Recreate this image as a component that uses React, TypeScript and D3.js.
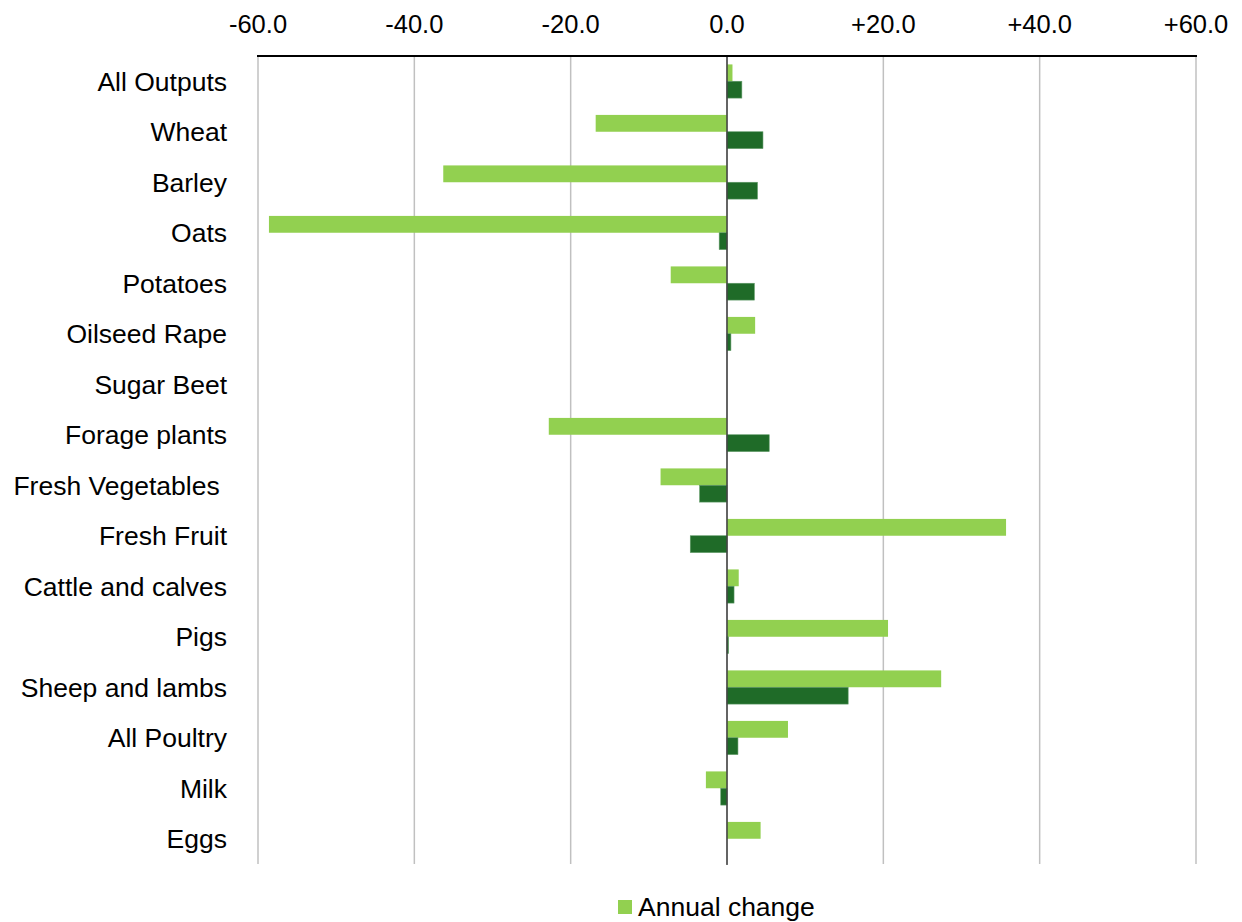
import React from 'react';
import * as d3 from 'd3';

const categories = [
  'All Outputs', 'Wheat', 'Barley', 'Oats', 'Potatoes', 'Oilseed Rape', 'Sugar Beet',
  'Forage plants', 'Fresh Vegetables ', 'Fresh Fruit', 'Cattle and calves', 'Pigs',
  'Sheep and lambs', 'All Poultry', 'Milk', 'Eggs',
];
const annualChange: (number | null)[] = [
  0.7, -16.8, -36.3, -58.6, -7.2, 3.6, null, -22.8, -8.5, 35.7, 1.5, 20.6, 27.4, 7.8, -2.7, 4.3,
];
const secondSeries: (number | null)[] = [
  1.9, 4.6, 3.9, -1.0, 3.5, 0.5, null, 5.4, -3.5, -4.7, 0.9, 0.2, 15.5, 1.4, -0.8, null,
];
const xTicks = [-60, -40, -20, 0, 20, 40, 60];
const seriesKeys = ['annual', 'second'];
const seriesNames = ['Annual change', ''];
const seriesColors = ['#92D050', '#1F6B28'];

const W = 1242, H = 922;
const FONT = '"Liberation Sans", Arial, sans-serif';

export default function App() {
  const x = d3.scaleLinear().domain([-60, 60]).range([258, 1196]);
  const y = d3.scaleBand<string>().domain(categories).range([56, 864]);
  const yInner = d3.scaleBand<string>().domain(seriesKeys).range([0, y.bandwidth()])
    .paddingInner(0).paddingOuter(0.5);
  const fmt = (v: number) => (v > 0 ? '+' : v < 0 ? '-' : '') + Math.abs(v).toFixed(1);
  const data = [annualChange, secondSeries];

  return (
    <svg width={W} height={H} style={{ position: 'absolute', left: 0, top: 0, background: '#fff' }}
      fontFamily={FONT}>
      {xTicks.map((t) => (
        <line key={'g' + t} x1={x(t)} x2={x(t)} y1={56} y2={864} stroke="#c0c0c0" strokeWidth={1.5} />
      ))}
      {data.map((series, si) =>
        series.map((v, i) => {
          if (v === null) return null;
          const y0 = (y(categories[i]) as number) + (yInner(seriesKeys[si]) as number);
          const x0 = x(Math.min(0, v));
          const x1 = x(Math.max(0, v));
          return (
            <rect key={si + '-' + i} x={x0} y={y0} width={Math.max(x1 - x0, 0.8)} height={yInner.bandwidth()}
              fill={seriesColors[si]} stroke={si === 1 ? '#5f9a66' : 'none'} strokeWidth={si === 1 ? 0.6 : 0} />
          );
        })
      )}
      <line x1={x(0)} x2={x(0)} y1={56} y2={865} stroke="#404040" strokeWidth={1.5} />
      <line x1={x(-60) - 1} x2={x(60) + 1} y1={56} y2={56} stroke="#000" strokeWidth={2} />
      {xTicks.map((t) => (
        <text key={'t' + t} x={x(t)} y={33} textAnchor="middle" fontSize={25.5} fill="#000">{fmt(t)}</text>
      ))}
      {categories.map((c) => (
        <text key={'c' + c} x={227} y={(y(c) as number) + y.bandwidth() / 2} dy="0.35em" textAnchor="end"
          fontSize={26.5} fill="#000" style={{ whiteSpace: 'pre' }}>{c}</text>
      ))}
      <rect x={618} y={900} width={14} height={14} fill={seriesColors[0]} />
      <text x={638} y={916} fontSize={26.5} fill="#000">{seriesNames[0]}</text>
    </svg>
  );
}
